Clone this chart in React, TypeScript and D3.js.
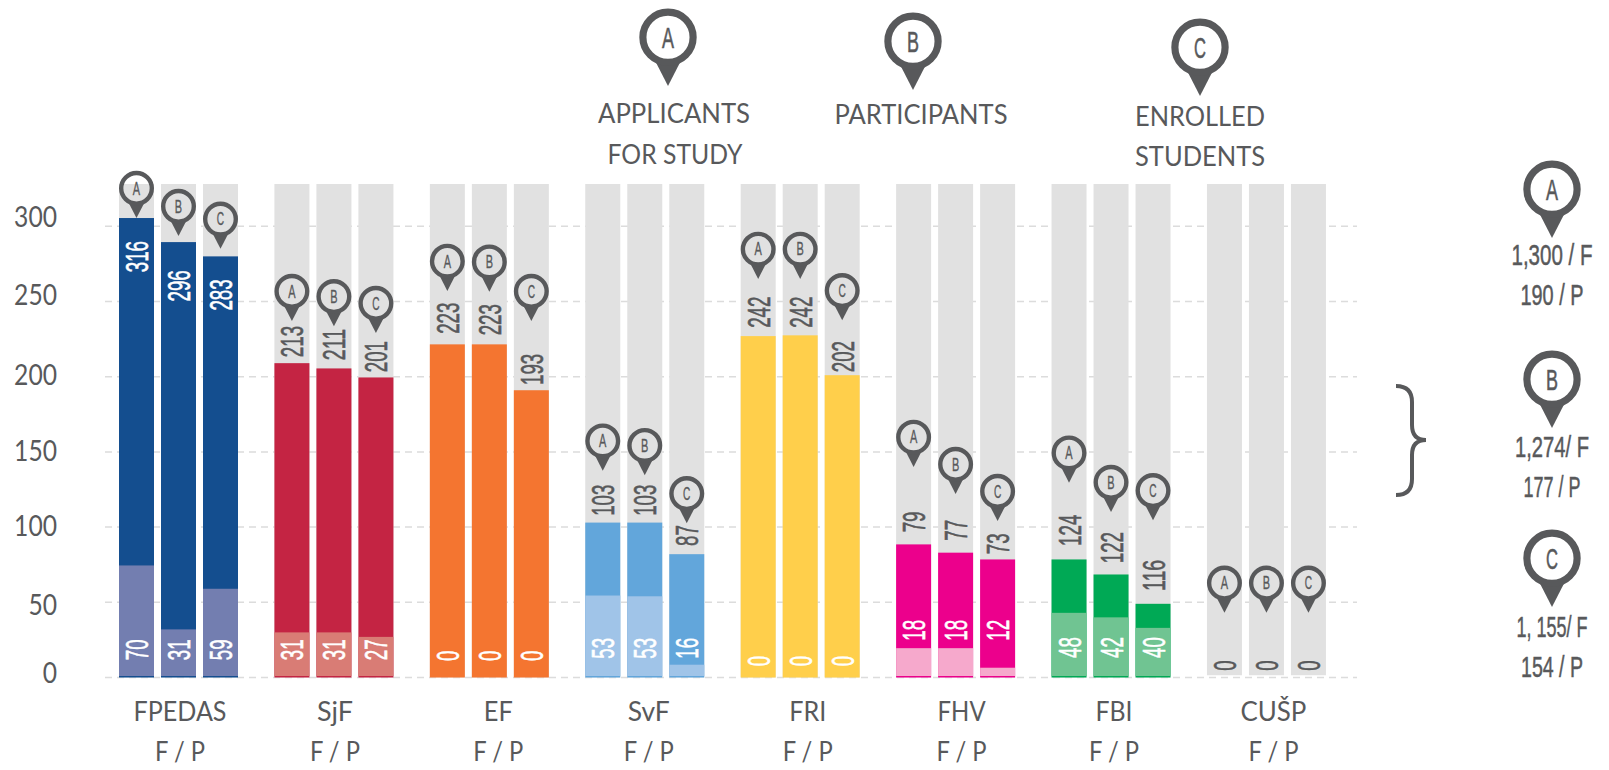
import React from 'react';
import * as d3 from 'd3';

const faculties = ['FPEDAS', 'SjF', 'EF', 'SvF', 'FRI', 'FHV', 'FBI', 'CUŠP'];
const stages = ['A', 'B', 'C'];

// bar heights as read against the axis, they do not always agree with the printed numbers
const fullBars = [
  [305.5, 289.5, 280],
  [209, 205.5, 199.5],
  [221.5, 221.5, 191],
  [103, 103, 82],
  [227, 227.5, 201],
  [88.5, 83, 78.5],
  [78.5, 68.5, 49],
  [0, 0, 0],
];
const partBars = [
  [74.5, 32, 59],
  [30, 30, 27],
  [0, 0, 0],
  [54.5, 54, 8.5],
  [0, 0, 0],
  [19.5, 19.5, 6.5],
  [43, 40, 33],
  [0, 0, 0],
];
const fullLabels = [
  [316, 296, 283],
  [213, 211, 201],
  [223, 223, 193],
  [103, 103, 87],
  [242, 242, 202],
  [79, 77, 73],
  [124, 122, 116],
  [null, null, null],
];
const partLabels = [
  [70, 31, 59],
  [31, 31, 27],
  [0, 0, 0],
  [53, 53, 16],
  [0, 0, 0],
  [18, 18, 12],
  [48, 42, 40],
  [0, 0, 0],
];
// where on the value axis the number labels start and the pins point
const fullLabelAt = [
  [269.5, 250, 244],
  [213, 211, 203],
  [228.5, 227.5, 194.5],
  [107.5, 107.5, 87.5],
  [232.5, 232.5, 203],
  [96.5, 91, 82],
  [87.5, 76, 57.5],
  [0, 0, 0],
];
const partLabelAt = [11.5, 11.5, 11, 12.5, 7.5, 24.5, 13, 4.5];
const pinTips = [
  [305.5, 293.5, 285],
  [237, 233.5, 229],
  [257, 256.5, 237],
  [137.5, 134.5, 102.5],
  [265, 265, 237.5],
  [140, 122, 104],
  [129.5, 110, 104.5],
  [43, 43, 43],
];

const darkColors = ['#144e8f', '#c42443', '#f47530', '#62a6db', '#ffcf4b', '#ec008c', '#00a955', '#e1e1e1'];
const lightColors = ['#737eb0', '#d97c75', '#f47530', '#a0c4e8', '#ffcf4b', '#f6a9cc', '#70c492', '#e1e1e1'];

const yTicks = [0, 50, 100, 150, 200, 250, 300];
const yTickNudge = [5, 13, 9, 9, 8, 3, 1];
const facultyWidths = [93, 36, 29, 42, 37, 48, 37, 66];
const facultyNudge = [1.5, 1, 9, 4, 7.5, 6, 3, 7];

const GREY = '#58595b';
const SANS = 'Lato, "Noto Sans", sans-serif';
const NARROW = '"Liberation Sans Narrow", "Liberation Sans", sans-serif';

const y = d3.scaleLinear().domain([0, 300]).range([677.5, 226.3]);
const xGroup = d3.scaleBand<string>().domain(faculties).range([119, 1326]).paddingInner(0.234).paddingOuter(0).align(0);
const xStage = d3.scaleBand<string>().domain(stages).range([0, 119]).paddingInner(0.1667).paddingOuter(0);

function Pin({ x, tip, r, letter, fill = 'none' }: { x: number; tip: number; r: number; letter: string; fill?: string }) {
  const cy = tip - r * 1.7;
  const ring = r * 0.25;
  const capH = r * 0.72;
  const body = d3.path();
  body.moveTo(x - r * 0.45, cy + r * 0.82);
  body.lineTo(x + r * 0.45, cy + r * 0.82);
  body.lineTo(x, tip);
  body.closePath();
  return (
    <g>
      <path d={body.toString()} fill={GREY} />
      <circle cx={x} cy={cy} r={r - ring / 2} fill={fill} stroke={GREY} strokeWidth={ring} />
      <text
        x={x}
        y={cy + capH / 2}
        textAnchor="middle"
        fontFamily={NARROW}
        fontSize={capH / 0.68}
        textLength={capH * 0.58}
        lengthAdjust="spacingAndGlyphs"
        fill={GREY}
        stroke={GREY}
        strokeWidth={r * 0.02}
      >
        {letter}
      </text>
    </g>
  );
}

function Sans({ x, y, w, size = 27, children }: { x: number; y: number; w: number; size?: number; children: string }) {
  return (
    <text x={x} y={y} textAnchor="middle" fontFamily={SANS} fontSize={size} fill={GREY} textLength={w} lengthAdjust="spacingAndGlyphs">
      {children}
    </text>
  );
}

function Narrow({ x, y, w, children }: { x: number; y: number; w: number; children: string }) {
  return (
    <text
      x={x}
      y={y}
      textAnchor="middle"
      fontFamily={NARROW}
      fontSize={30}
      fill={GREY}
      stroke={GREY}
      strokeWidth={0.5}
      textLength={w}
      lengthAdjust="spacingAndGlyphs"
    >
      {children}
    </text>
  );
}

function BarNumber({ x, at, value, color }: { x: number; at: number; value: number; color: string }) {
  const txt = String(value);
  return (
    <text
      transform={`translate(${x + 11.5},${at}) rotate(-90)`}
      fontFamily={NARROW}
      fontSize={31}
      fill={color}
      stroke={color}
      strokeWidth={0.6}
      textLength={txt.length * 10.4}
      lengthAdjust="spacingAndGlyphs"
    >
      {txt}
    </text>
  );
}

export default function App() {
  const gridLine = d3.line();
  return (
    <svg width={1609} height={770} style={{ position: 'absolute', left: 0, top: 0 }}>
      <rect width={1609} height={770} fill="#fff" />

      {/* gridlines sit behind the bars */}
      {yTicks.map((t, i) => (
        <g key={t}>
          <path
            d={gridLine([[105, y(t)], [1357, y(t)]]) as string}
            stroke="#dcdcdc"
            strokeWidth={1.5}
            strokeDasharray="7 5"
            fill="none"
          />
          <text
            x={57}
            y={y(t) + yTickNudge[i]}
            textAnchor="end"
            fontFamily={SANS}
            fontSize={28}
            fill={GREY}
            textLength={String(t).length * 14.3}
            lengthAdjust="spacingAndGlyphs"
          >
            {t}
          </text>
        </g>
      ))}

      {faculties.map((f, fi) => {
        const gx = xGroup(f) as number;
        const bw = xStage.bandwidth();
        return (
          <g key={f}>
            {stages.map((s, si) => {
              const bx = gx + (xStage(s) as number);
              const cx = bx + bw / 2;
              const full = fullBars[fi][si];
              const part = partBars[fi][si];
              const fullLabel = fullLabels[fi][si];
              const inside = fi === 0;
              return (
                <g key={s}>
                  <rect x={bx} y={184} width={bw} height={(fi === 7 ? y(1.5) : y(0)) - 184} fill="#e1e1e1" />
                  {full > 0 && <rect x={bx} y={y(full)} width={bw} height={y(0) - y(full)} fill={darkColors[fi]} />}
                  {part > 0 && <rect x={bx} y={y(part)} width={bw} height={y(1) - y(part)} fill={lightColors[fi]} />}
                  {fullLabel !== null && (
                    <BarNumber x={cx} at={y(fullLabelAt[fi][si])} value={fullLabel} color={inside ? '#fff' : GREY} />
                  )}
                  <BarNumber x={cx} at={y(partLabelAt[fi])} value={partLabels[fi][si]} color={fi === 7 ? GREY : '#fff'} />
                  <Pin x={cx} tip={y(pinTips[fi][si])} r={17.5} letter={s} />
                </g>
              );
            })}
            <Sans x={gx + 59.5 + facultyNudge[fi]} y={720.5} w={facultyWidths[fi]}>{f}</Sans>
            <Sans x={gx + 59.5 + facultyNudge[fi]} y={761} w={50}>F / P</Sans>
          </g>
        );
      })}

      {/* top legend */}
      <Pin x={668} tip={86} r={28.7} letter="A" fill="#fff" />
      <Sans x={674} y={123} w={152}>APPLICANTS</Sans>
      <Sans x={675} y={164} w={135}>FOR STUDY</Sans>
      <Pin x={913} tip={90} r={28.7} letter="B" fill="#fff" />
      <Sans x={921} y={124} w={173}>PARTICIPANTS</Sans>
      <Pin x={1200} tip={96} r={28.7} letter="C" fill="#fff" />
      <Sans x={1200} y={126} w={130}>ENROLLED</Sans>
      <Sans x={1200} y={166} w={130}>STUDENTS</Sans>

      {/* brace and totals on the right */}
      <path
        d="M1396,386 Q1412,386 1412,402 L1412,425 Q1412,440 1426,440 Q1412,440 1412,455 L1412,479 Q1412,495 1396,495"
        fill="none"
        stroke={GREY}
        strokeWidth={4}
      />
      <Pin x={1552} tip={238} r={28.7} letter="A" fill="#fff" />
      <Narrow x={1552} y={265} w={81}>1,300 / F</Narrow>
      <Narrow x={1552} y={305} w={63}>190 / P</Narrow>
      <Pin x={1552} tip={428} r={28.7} letter="B" fill="#fff" />
      <Narrow x={1552} y={457} w={74}>1,274/ F</Narrow>
      <Narrow x={1552} y={497} w={57}>177 / P</Narrow>
      <Pin x={1552} tip={607} r={28.7} letter="C" fill="#fff" />
      <Narrow x={1552} y={637} w={71}>1, 155/ F</Narrow>
      <Narrow x={1552} y={677} w={62}>154 / P</Narrow>
    </svg>
  );
}
